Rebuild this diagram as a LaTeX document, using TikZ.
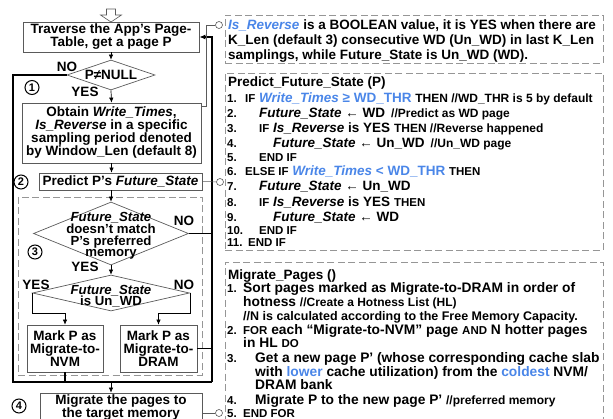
\documentclass[tikz,border=0pt]{standalone}
\usepackage{fontspec}
\setmainfont{Liberation Sans}
\usetikzlibrary{shapes.geometric,arrows.meta}
\definecolor{myblue}{RGB}{74,134,232}
\definecolor{boxgray}{RGB}{90,90,90}
\definecolor{dashgray}{RGB}{150,150,150}
\newcommand\szA{\fontsize{13.5}{13}\selectfont\bfseries}
\newcommand\szD{\fontsize{13.2}{11.6}\selectfont\bfseries}
\newcommand\szS{\fontsize{11.5}{12}\selectfont\bfseries}
\newcommand\szC{\fontsize{12}{12}\selectfont\bfseries}
\newcommand\szCC{\fontsize{12.5}{12}\selectfont\bfseries}
\newcommand\szB{\fontsize{13.8}{14}\selectfont\bfseries}
\newcommand\szN{\fontsize{11}{11}\selectfont\bfseries}
\begin{document}
\begin{tikzpicture}[x=1pt,y=-1pt,
  fl/.style={draw=boxgray,line width=0.7pt,align=center,inner sep=0pt,font=\szA},
  dia/.style={shape=diamond,draw=boxgray,line width=0.7pt,inner sep=0pt},
  lab/.style={inner sep=0pt,font=\szA},
  arr/.style={-{Latex[length=5pt,width=4.5pt]},line width=0.7pt},
  lp/.style={line width=1.6pt},
  dbox/.style={draw=dashgray,dash pattern=on 7pt off 3.5pt,line width=0.8pt,inner sep=0pt},
  conn/.style={draw=boxgray,line width=0.5pt},
  dot/.style={circle,draw=boxgray,fill=white,line width=0.6pt,minimum size=7pt,inner sep=0pt},
  num/.style={circle,draw=black,line width=1pt,minimum size=14pt,inner sep=0pt,font=\szN},
  ln/.style={anchor=base west,inner sep=0pt,font=\szA},
  lnB/.style={anchor=base west,inner sep=0pt,font=\szB},
  nb/.style={anchor=base west,inner sep=0pt,font=\szS}
]
\useasboundingbox (0,0) rectangle (613,419);
\clip (0,0) rectangle (613,419);

% top hollow arrow
\draw[boxgray,line width=0.6pt] (106.5,9)--(115.5,9)--(115.5,15)--(121.5,15)--(111,22)--(100.5,15)--(106.5,15)--cycle;

% flowchart
\node[fl,minimum width=176pt,minimum height=30pt] (b1) at (111,37) {Traverse the App's Page-\\Table, get a page P};
\node[dia,minimum width=88pt,minimum height=30pt] (d1) at (111,75) {};
\node[lab] (d1t) at (d1) {P≠NULL};
\node[fl,minimum width=179pt,minimum height=60pt] (b2) at (111.5,133) {Obtain {\itshape Write\_Times},\\{\itshape Is\_Reverse} in a specific\\sampling period denoted\\by Window\_Len (default 8)};
\node[fl,minimum width=163pt,minimum height=17pt] (b3) at (120.5,181.5) {Predict P's {\itshape Future\_State}};
\node[dbox,minimum width=184pt,minimum height=178pt] (reg3) at (110,286) {};
\node[dia,minimum width=155pt,minimum height=63pt] (d2) at (111,233.5) {};
\node[lab,align=center,font=\szD] (d2t) at (111,236) {{\itshape Future\_State}\\doesn't match\\P's preferred\\memory};
\node[dia,minimum width=157pt,minimum height=36pt] (d3) at (111,293) {};
\node[lab,align=center,font=\szD] (d3t) at (111,296) {{\itshape Future\_State}\\is Un\_WD};
\node[fl,minimum width=76pt,minimum height=47pt] (nvm) at (65,348.5) {Mark P as\\Migrate-to-\\NVM};
\node[fl,minimum width=77pt,minimum height=47pt] (dram) at (158.5,348.5) {Mark P as\\Migrate-to-\\DRAM};
\node[fl,minimum width=162pt,minimum height=40pt] (b4) at (121,413) {};
\node[lab,align=center] (b4t) at (121,408) {Migrate the pages to\\the target memory};

% numbers
\node[num] (n1) at (32,87.5) {1};
\node[num] (n2) at (21,182) {2};
\node[num] (n3) at (35,252) {3};
\node[num] (n4) at (19,406) {4};

% yes/no labels
\node[lab] (no1) at (67,67) {NO};
\node[lab] (yes1) at (85,92) {YES};
\node[lab] (no2) at (184,221) {NO};
\node[lab] (yes2) at (85,267) {YES};
\node[lab] (yes3) at (36,285) {YES};
\node[lab] (no3) at (184,285) {NO};

% arrows
\draw[arr] (b1.south) -- (d1.north);
\draw[arr] (d1.south) -- (b2.north);
\draw[arr] (b2.south) -- (b2.south |- b3.north);
\draw[arr] (b3.south -| d2.north) -- (d2.north);
\draw[arr] (d2.south) -- (d3.north);
\draw[arr] (d3.west) -- ([yshift=-20pt]d3.west) -| (nvm.north);
\draw[arr] (d3.east) -- ([yshift=-20pt]d3.east) -| (dram.north);

% loop lines
\coordinate (bl) at (13,382);
\coordinate (br) at (212,382);
\coordinate (mid) at (111,382);
\draw[lp] (d1.west) -| (bl) -- (br);
\draw[lp,-{Latex[length=6pt,width=5pt]}] (br) |- (b1.east);
\draw[lp] (nvm.south) -- (nvm.south |- bl);
\draw[arr] (mid) -- (mid |- b4.north);
\draw[lp] (d2.east) -- (d2.east -| br);
\draw[line width=0.8pt] (dram.east) -- (dram.east -| br);

% panels
\node[dbox,minimum width=378pt,minimum height=48pt] (p1) at (414,39) {};
\node[dbox,minimum width=378pt,minimum height=177pt] (p2) at (414,161.5) {};
\node[dbox,minimum width=378pt,minimum height=172pt] (p3) at (414,348) {};

\node[dot] (c1) at (219,25) {};
\node[dot] (c2) at (220,182) {};
\node[dot] (c3) at (219,413) {};
\draw[conn] ([yshift=-4pt]b2.north east) -- ++(5,0) |- (c1);
\draw[conn] (b3.east) -- (c2);
\draw[conn] (b4.east) -- (c3);

% panel 1
\node[ln] (q1) at (228,29.5) {{\color{myblue}\itshape Is\_Reverse} is a BOOLEAN value, it is YES when there are};
\node[ln] (q2) at (228,44.5) {K\_Len (default 3) consecutive WD (Un\_WD) in last K\_Len};
\node[ln] (q3) at (228,59.5) {samplings, while Future\_State is Un\_WD (WD).};

% panel 2
\node[ln] (r0) at (228,86.5) {Predict\_Future\_State (P)};
\node[nb] (r1n) at (227,102.5) {1.};
\node[ln] (r1) at (245,102.5) {{\szS IF} {\color{myblue}{\itshape Write\_Times} ≥ WD\_THR} {\szC THEN //WD\_THR is 5 by default}};
\node[nb] (r2n) at (227,117.5) {2.};
\node[ln] (r2) at (259,117.5) {{\itshape Future\_State} ← WD\, {\szC //Predict as WD page}};
\node[nb] (r3n) at (227,132.5) {3.};
\node[ln] (r3) at (259,132.5) {{\szS IF} {\itshape Is\_Reverse} is YES {\szC THEN //Reverse happened}};
\node[nb] (r4n) at (227,147.5) {4.};
\node[ln] (r4) at (273,147.5) {{\itshape Future\_State} ← Un\_WD\, {\szC //Un\_WD page}};
\node[nb] (r5n) at (227,161.5) {5.};
\node[nb] (r5) at (259,161.5) {END IF};
\node[nb] (r6n) at (227,176) {6.};
\node[ln] (r6) at (245,176) {{\szS ELSE IF} {\color{myblue}{\itshape Write\_Times} < WD\_THR} {\szS THEN}};
\node[nb] (r7n) at (227,191) {7.};
\node[ln] (r7) at (259,191) {{\itshape Future\_State} ← Un\_WD};
\node[nb] (r8n) at (227,206.5) {8.};
\node[ln] (r8) at (259,206.5) {{\szS IF} {\itshape Is\_Reverse} is YES {\szS THEN}};
\node[nb] (r9n) at (227,221.5) {9.};
\node[ln] (r9) at (273,221.5) {{\itshape Future\_State} ← WD};
\node[nb] (r10n) at (227,235) {10.};
\node[nb] (r10) at (259,235) {END IF};
\node[nb] (r11n) at (227,247) {11.};
\node[nb] (r11) at (248,247) {END IF};

% panel 3
\node[ln] (s0) at (228,279.5) {Migrate\_Pages ()};
\node[nb] (s1n) at (227,293) {1.};
\node[lnB] (s1) at (243,293) {Sort pages marked as Migrate-to-DRAM in order of};
\node[lnB] (s1b) at (243,306.5) {hotness {\szC //Create a Hotness List (HL)}};
\node[ln,font=\szCC] (s1c) at (243,320.5) {//N is calculated according to the Free Memory Capacity.};
\node[nb] (s2n) at (227,334.5) {2.};
\node[lnB] (s2) at (243,334.5) {{\szS FOR} each “Migrate-to-NVM” page {\szS AND} N hotter pages};
\node[lnB] (s2b) at (243,347.5) {in HL {\szS DO}};
\node[nb] (s3n) at (227,362.5) {3.};
\node[lnB] (s3) at (255,362.5) {Get a new page P’ (whose corresponding cache slab};
\node[lnB] (s3b) at (255,376.5) {with {\color{myblue}lower} cache utilization) from the {\color{myblue}coldest} NVM/};
\node[lnB] (s3c) at (255,389.5) {DRAM bank};
\node[nb] (s4n) at (227,404.5) {4.};
\node[lnB] (s4) at (255,404.5) {Migrate P to the new page P’ {\szC //preferred memory}};
\node[nb] (s5n) at (227,417.5) {5.};
\node[nb] (s5) at (243,417.5) {END FOR};
\end{tikzpicture}
\end{document}
